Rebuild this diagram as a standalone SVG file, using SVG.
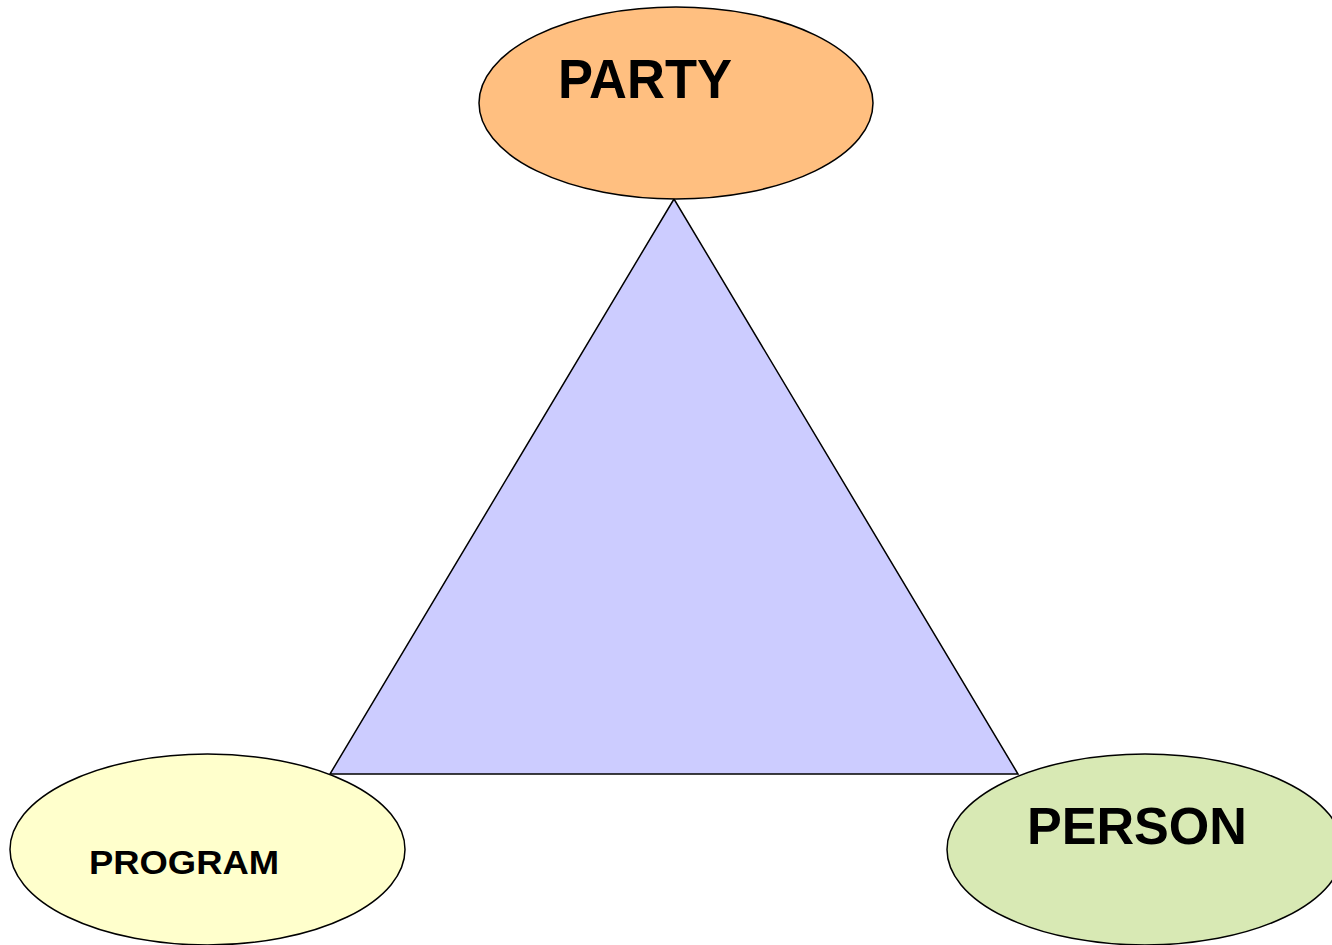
<svg xmlns="http://www.w3.org/2000/svg" width="1332" height="945" viewBox="0 0 1332 945">
<style>
.node{stroke:#000;stroke-width:1.5}
.lbl{font-family:"Liberation Sans",Arial,sans-serif;font-weight:bold;fill:#000}
</style>
<rect width="1332" height="945" fill="#fff"/>
<g id="connectors">
<polygon points="674,199 330,774 1018,774" fill="#ccccff" stroke="#000" stroke-width="1.5"/>
</g>
<g id="party">
<ellipse class="node" cx="676" cy="103" rx="197" ry="96" fill="#ffbf80"/>
<text class="lbl" x="558" y="98" font-size="55" textLength="174" lengthAdjust="spacingAndGlyphs">PARTY</text>
</g>
<g id="program">
<ellipse class="node" cx="207.5" cy="849.5" rx="197.5" ry="95.5" fill="#ffffcc"/>
<text class="lbl" x="89" y="874" font-size="34" textLength="190" lengthAdjust="spacingAndGlyphs">PROGRAM</text>
</g>
<g id="person">
<ellipse class="node" cx="1145" cy="849.5" rx="198" ry="95.5" fill="#d8e9b4"/>
<text class="lbl" x="1027" y="844" font-size="52" textLength="220" lengthAdjust="spacingAndGlyphs">PERSON</text>
</g>
</svg>
